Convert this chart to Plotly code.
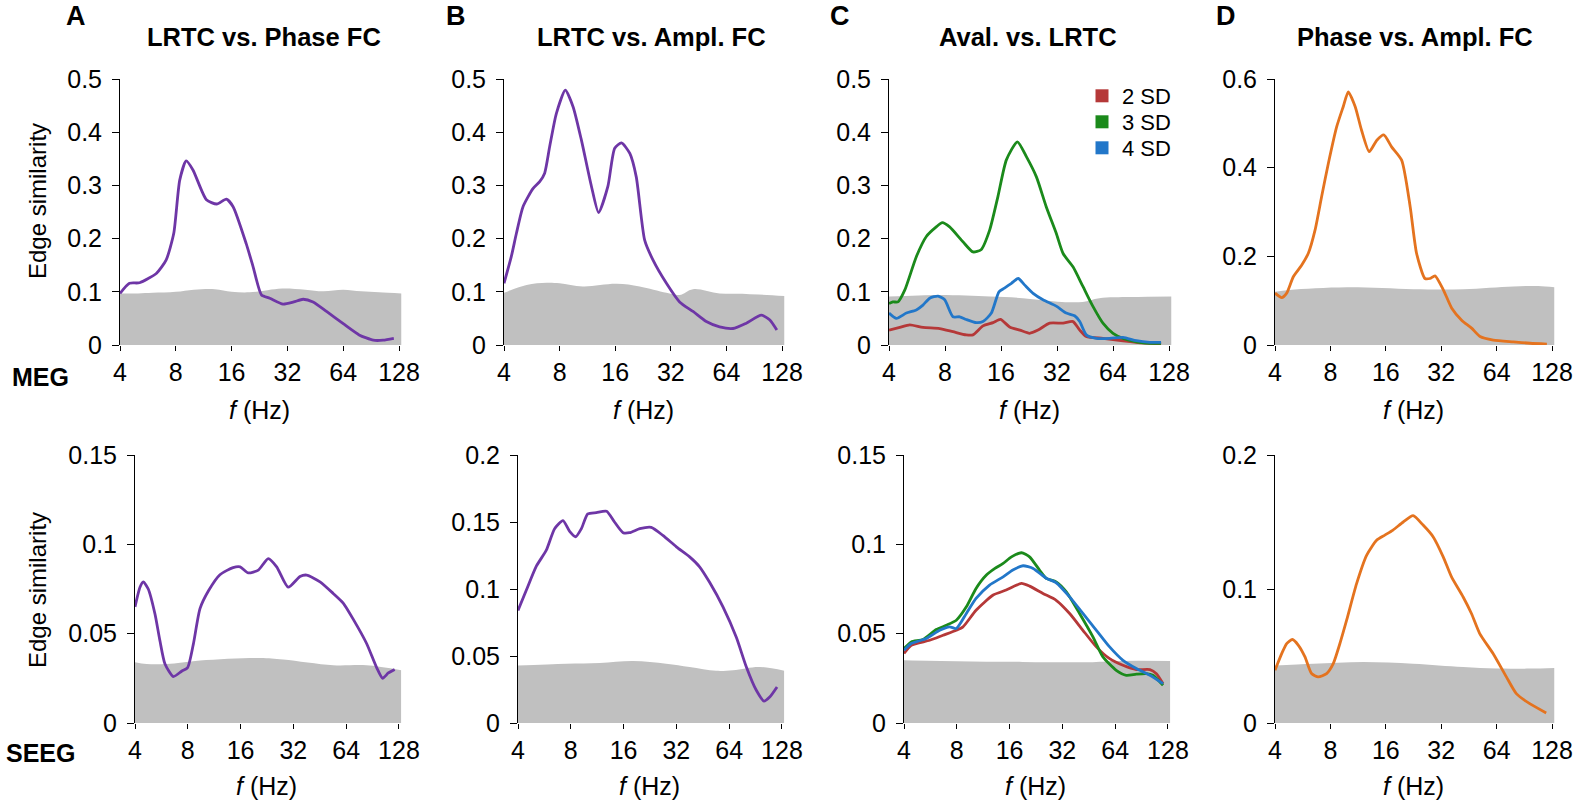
import math
import plotly.graph_objects as go

# ---------------- data ----------------
X_TICKS = [4, 8, 16, 32, 64, 128]
X_TICKTEXT = ["4", "8", "16", "32", "64", "128"]

# MEG (top row)
A_MEG_F = [4, 4.5, 5.1, 6.3, 7.1, 7.8, 8.4, 9.1, 9.9, 11.7, 13.3, 15, 16.3, 19.2, 20.9, 23.2, 25.7, 30.3, 34.6, 38.9, 44, 52, 64, 78, 93, 105, 120]
A_MEG_V = [0.097, 0.116, 0.117, 0.135, 0.16, 0.21, 0.31, 0.346, 0.329, 0.273, 0.265, 0.274, 0.26, 0.19, 0.147, 0.094, 0.088, 0.077, 0.081, 0.086, 0.081, 0.063, 0.040, 0.019, 0.009, 0.009, 0.0125]
A_MEG_NULL_F = [4, 5, 6, 8, 10, 13, 16, 20, 25, 30, 40, 50, 64, 80, 100, 132]
A_MEG_NULL_V = [0.097, 0.097, 0.098, 0.100, 0.104, 0.105, 0.100, 0.099, 0.103, 0.106, 0.104, 0.101, 0.104, 0.101, 0.099, 0.097]

B_MEG_F = [4, 4.38, 4.67, 5.07, 5.74, 6.24, 6.64, 7.07, 7.68, 8.59, 9.46, 10.5, 11.9, 13.0, 14.6, 15.9, 17.3, 19.2, 20.8, 23.1, 25.6, 30.3, 35.7, 42.2, 49.8, 58.8, 69.5, 82, 99, 110, 120]
B_MEG_V = [0.116, 0.166, 0.21, 0.26, 0.294, 0.307, 0.323, 0.373, 0.435, 0.479, 0.448, 0.385, 0.298, 0.249, 0.298, 0.37, 0.380, 0.36, 0.316, 0.197, 0.16, 0.116, 0.081, 0.063, 0.044, 0.034, 0.031, 0.041, 0.056, 0.047, 0.028]
B_MEG_NULL_F = [4, 5.3, 6.8, 8, 10.7, 16.3, 21.7, 30.3, 35.7, 42.2, 58.8, 82, 132]
B_MEG_NULL_V = [0.098, 0.113, 0.117, 0.116, 0.110, 0.115, 0.110, 0.098, 0.094, 0.105, 0.097, 0.096, 0.092]

C_MEG_3SD_F = [4, 4.2, 4.47, 4.86, 5.61, 6.35, 7.18, 7.74, 8.47, 9.99, 11.3, 12.5, 13.9, 15.4, 17.1, 19.6, 21.9, 24.8, 28.0, 31.7, 34.5, 39.0, 44.1, 50.0, 56.5, 64, 72.4, 85.4, 101, 116]
C_MEG_3SD_V = [0.078, 0.081, 0.081, 0.103, 0.166, 0.204, 0.222, 0.230, 0.222, 0.194, 0.175, 0.179, 0.216, 0.279, 0.348, 0.382, 0.354, 0.316, 0.26, 0.21, 0.172, 0.147, 0.110, 0.072, 0.041, 0.022, 0.0125, 0.006, 0.003, 0.003]
C_MEG_4SD_F = [4, 4.38, 4.96, 5.61, 6.09, 6.62, 7.34, 7.97, 8.83, 9.59, 10.4, 11.8, 12.8, 14.2, 15.6, 16.7, 18.2, 19.8, 21.4, 23.8, 26.9, 31.7, 35.9, 39.8, 42.4, 46.0, 52.1, 61.4, 72.4, 85.4, 101, 116]
C_MEG_4SD_V = [0.060, 0.050, 0.060, 0.066, 0.075, 0.088, 0.092, 0.085, 0.053, 0.053, 0.048, 0.042, 0.044, 0.06, 0.100, 0.107, 0.116, 0.125, 0.113, 0.097, 0.085, 0.073, 0.060, 0.055, 0.044, 0.019, 0.0125, 0.0125, 0.0144, 0.008, 0.005, 0.005]
C_MEG_2SD_F = [4, 4.57, 5.17, 6.09, 7.49, 8.83, 10.4, 11.3, 12.8, 14.5, 15.9, 17.8, 20.2, 22.8, 25.3, 29.2, 34.5, 39.0, 42.4, 46, 56.5, 72.4, 92.8, 116]
C_MEG_2SD_V = [0.028, 0.033, 0.038, 0.033, 0.031, 0.025, 0.019, 0.019, 0.036, 0.042, 0.048, 0.034, 0.028, 0.022, 0.028, 0.041, 0.041, 0.044, 0.028, 0.016, 0.0125, 0.008, 0.004, 0.002]
C_MEG_NULL_F = [4, 7.5, 14, 21, 34, 44, 54, 80, 132]
C_MEG_NULL_V = [0.091, 0.094, 0.091, 0.088, 0.081, 0.081, 0.088, 0.090, 0.091]

D_MEG_F = [4, 4.35, 4.63, 5.03, 5.58, 6.07, 6.6, 7.17, 7.8, 8.65, 9.4, 10.0, 10.9, 11.8, 13.0, 14.3, 15.6, 17.2, 19.5, 21.7, 23.5, 26.1, 27.8, 29.6, 32.9, 36.5, 41.3, 46.8, 52, 61.4, 78.9, 97.2, 120]
D_MEG_V = [0.117, 0.107, 0.117, 0.154, 0.180, 0.207, 0.259, 0.335, 0.410, 0.492, 0.538, 0.571, 0.538, 0.485, 0.436, 0.462, 0.474, 0.447, 0.417, 0.312, 0.207, 0.150, 0.150, 0.156, 0.124, 0.083, 0.056, 0.038, 0.019, 0.011, 0.007, 0.004, 0.002]
D_MEG_NULL_F = [4, 4.8, 9.8, 22.6, 42.2, 78.9, 107.9, 132]
D_MEG_NULL_V = [0.12, 0.124, 0.130, 0.126, 0.126, 0.132, 0.133, 0.130]

# SEEG (bottom row)
A_SEEG_F = [4, 4.27, 4.46, 4.76, 5.2, 5.55, 5.93, 6.62, 7.38, 7.98, 8.6, 9.39, 10.5, 12.2, 14.5, 15.9, 17.7, 20.2, 23.0, 25.7, 29.9, 34.9, 38.1, 45.4, 54.0, 61.7, 70.3, 83.7, 95.5, 103.3, 111.3, 121]
A_SEEG_V = [0.065, 0.076, 0.079, 0.075, 0.061, 0.046, 0.033, 0.026, 0.029, 0.031, 0.044, 0.064, 0.074, 0.083, 0.087, 0.0874, 0.084, 0.0856, 0.092, 0.0874, 0.076, 0.082, 0.0828, 0.079, 0.0725, 0.067, 0.058, 0.0445, 0.031, 0.025, 0.028, 0.030]
A_SEEG_NULL_F = [4, 4.66, 6.06, 9.39, 20.6, 28.0, 54, 83.7, 132]
A_SEEG_NULL_V = [0.034, 0.033, 0.033, 0.035, 0.0364, 0.0355, 0.0323, 0.0323, 0.0295]

B_SEEG_F = [4, 4.46, 5.09, 5.8, 6.47, 7.22, 7.88, 8.53, 9.19, 10.0, 11.2, 12.8, 14.2, 15.9, 17.3, 19.8, 23.0, 26.8, 32.0, 38.1, 43.4, 49.5, 59.0, 70.3, 80.1, 91.4, 101, 109, 120]
B_SEEG_V = [0.084, 0.099, 0.117, 0.129, 0.145, 0.151, 0.143, 0.139, 0.145, 0.156, 0.157, 0.158, 0.150, 0.142, 0.142, 0.145, 0.146, 0.140, 0.1315, 0.124, 0.1166, 0.105, 0.0867, 0.064, 0.042, 0.0244, 0.0164, 0.0194, 0.0269]
B_SEEG_NULL_F = [4, 7.54, 11.7, 18.1, 28, 38.1, 54, 67.3, 95.5, 132]
B_SEEG_NULL_V = [0.043, 0.0443, 0.0448, 0.0463, 0.0443, 0.0418, 0.0389, 0.0394, 0.0418, 0.0389]

C_SEEG_3SD_F = [4, 4.4, 5.13, 6.11, 6.97, 7.95, 9.07, 10.3, 11.8, 13.2, 14.7, 16.4, 18.7, 20.8, 23.7, 25.9, 29.5, 33.7, 40.1, 47.8, 54.5, 64.9, 74.1, 84.5, 96.3, 105, 120]
C_SEEG_3SD_V = [0.0417, 0.0454, 0.0467, 0.0523, 0.0547, 0.0575, 0.065, 0.0753, 0.0828, 0.0865, 0.0893, 0.093, 0.0953, 0.093, 0.0856, 0.081, 0.079, 0.0734, 0.0613, 0.0482, 0.037, 0.0295, 0.0267, 0.0273, 0.0276, 0.0267, 0.0211]
C_SEEG_4SD_F = [4, 4.4, 5.36, 6.39, 7.28, 7.95, 9.07, 10.3, 12.3, 14.7, 16.7, 19.1, 21.8, 25.9, 29.5, 35.2, 41.9, 50.0, 59.5, 70.9, 84.5, 101, 120]
C_SEEG_4SD_V = [0.0407, 0.0445, 0.0473, 0.0519, 0.0538, 0.0529, 0.0613, 0.0697, 0.0772, 0.0818, 0.0856, 0.088, 0.0865, 0.081, 0.0785, 0.0706, 0.0613, 0.0519, 0.0426, 0.0351, 0.0305, 0.0267, 0.022]
C_SEEG_2SD_F = [4, 4.4, 5.6, 6.68, 7.95, 8.68, 10.3, 12.9, 15.3, 18.7, 20.8, 24.8, 29.5, 35.2, 41.9, 50.0, 59.5, 70.9, 84.5, 101, 110, 120]
C_SEEG_2SD_V = [0.0389, 0.0435, 0.0463, 0.0491, 0.0519, 0.0538, 0.0631, 0.0716, 0.0744, 0.0781, 0.0766, 0.0725, 0.0687, 0.0613, 0.0519, 0.0426, 0.036, 0.0323, 0.0299, 0.0299, 0.0276, 0.022]
C_SEEG_NULL_F = [4, 8, 19, 45, 66, 132]
C_SEEG_NULL_V = [0.0351, 0.0346, 0.0342, 0.034, 0.0347, 0.0347]

D_SEEG_F = [4, 4.35, 4.63, 4.97, 5.36, 5.82, 6.32, 6.87, 7.63, 8.29, 9.01, 9.8, 11.1, 12.6, 14.3, 15.8, 17.5, 19.9, 22.5, 25.5, 28.9, 32.8, 36.4, 42.1, 46.7, 51.8, 61.2, 72.3, 81.9, 96.8, 119]
D_SEEG_V = [0.0394, 0.0518, 0.0593, 0.0623, 0.058, 0.0493, 0.0369, 0.0344, 0.0369, 0.0443, 0.0593, 0.0767, 0.104, 0.1253, 0.1365, 0.1402, 0.144, 0.150, 0.1547, 0.1477, 0.139, 0.124, 0.109, 0.094, 0.0817, 0.0667, 0.0518, 0.0344, 0.0219, 0.0144, 0.0075]
D_SEEG_NULL_F = [4, 6.46, 12.1, 22.5, 42.1, 63.8, 96.8, 132]
D_SEEG_NULL_V = [0.043, 0.0443, 0.0456, 0.0443, 0.0418, 0.0406, 0.0406, 0.0411]

Y_TICKS_05 = [0, 0.1, 0.2, 0.3, 0.4, 0.5]
Y_TICKTEXT_05 = ["0", "0.1", "0.2", "0.3", "0.4", "0.5"]
Y_TICKS_06 = [0, 0.2, 0.4, 0.6]
Y_TICKTEXT_06 = ["0", "0.2", "0.4", "0.6"]
Y_TICKS_015 = [0, 0.05, 0.1, 0.15]
Y_TICKTEXT_015 = ["0", "0.05", "0.1", "0.15"]
Y_TICKS_02B = [0, 0.05, 0.1, 0.15, 0.2]
Y_TICKTEXT_02B = ["0", "0.05", "0.1", "0.15", "0.2"]
Y_TICKS_02D = [0, 0.1, 0.2]
Y_TICKTEXT_02D = ["0", "0.1", "0.2"]

PANEL_TITLES = ["LRTC vs. Phase FC", "LRTC vs. Ampl. FC", "Aval. vs. LRTC", "Phase vs. Ampl. FC"]
PANEL_LETTERS = ["A", "B", "C", "D"]
ROW_LABELS = ["MEG", "SEEG"]
LEGEND_NAMES = ["2 SD", "3 SD", "4 SD"]

# ---------------- styling ----------------
W, H = 1574, 805


def px(xp):
    return xp / W


def py(yp):
    return 1 - yp / H


FONT = "Liberation Sans, Arial, Helvetica, sans-serif"
PURPLE = "#6e36a6"
ORANGE = "#e4731f"
RED = "#b53838"
GREEN = "#1b8a1b"
BLUE = "#2277c9"
GRAY = "#c0c0c0"
LW = 2.8
TICK_FS = 25

X_END = 132  # axis range end (Hz)

# pixel layout: left px of y-axis, right px of range, top px, bottom px
panels = [
    dict(l=120, r=401.5, t=79, b=345, ymax=0.5, yt=Y_TICKS_05, ytt=Y_TICKTEXT_05),
    dict(l=504, r=784.5, t=79, b=345, ymax=0.5, yt=Y_TICKS_05, ytt=Y_TICKTEXT_05),
    dict(l=889, r=1171.5, t=79, b=345, ymax=0.5, yt=Y_TICKS_05, ytt=Y_TICKTEXT_05),
    dict(l=1275, r=1554.5, t=79, b=345, ymax=0.6, yt=Y_TICKS_06, ytt=Y_TICKTEXT_06),
    dict(l=135, r=401.3, t=455, b=723, ymax=0.15, yt=Y_TICKS_015, ytt=Y_TICKTEXT_015),
    dict(l=518, r=784.3, t=455, b=723, ymax=0.2, yt=Y_TICKS_02B, ytt=Y_TICKTEXT_02B),
    dict(l=904, r=1170.3, t=455, b=723, ymax=0.15, yt=Y_TICKS_015, ytt=Y_TICKTEXT_015),
    dict(l=1275, r=1554.5, t=455, b=723, ymax=0.2, yt=Y_TICKS_02D, ytt=Y_TICKTEXT_02D),
]

series = [
    (0, A_MEG_NULL_F, A_MEG_NULL_V, [(A_MEG_F, A_MEG_V, PURPLE)]),
    (1, B_MEG_NULL_F, B_MEG_NULL_V, [(B_MEG_F, B_MEG_V, PURPLE)]),
    (2, C_MEG_NULL_F, C_MEG_NULL_V, [(C_MEG_2SD_F, C_MEG_2SD_V, RED), (C_MEG_3SD_F, C_MEG_3SD_V, GREEN), (C_MEG_4SD_F, C_MEG_4SD_V, BLUE)]),
    (3, D_MEG_NULL_F, D_MEG_NULL_V, [(D_MEG_F, D_MEG_V, ORANGE)]),
    (4, A_SEEG_NULL_F, A_SEEG_NULL_V, [(A_SEEG_F, A_SEEG_V, PURPLE)]),
    (5, B_SEEG_NULL_F, B_SEEG_NULL_V, [(B_SEEG_F, B_SEEG_V, PURPLE)]),
    (6, C_SEEG_NULL_F, C_SEEG_NULL_V, [(C_SEEG_2SD_F, C_SEEG_2SD_V, RED), (C_SEEG_3SD_F, C_SEEG_3SD_V, GREEN), (C_SEEG_4SD_F, C_SEEG_4SD_V, BLUE)]),
    (7, D_SEEG_NULL_F, D_SEEG_NULL_V, [(D_SEEG_F, D_SEEG_V, ORANGE)]),
]

fig = go.Figure()
layout = dict(
    width=W, height=H, autosize=False,
    margin=dict(l=0, r=0, t=0, b=0, pad=0, autoexpand=False),
    paper_bgcolor="white", plot_bgcolor="white",
    font=dict(family=FONT, color="black", size=22),
    showlegend=True,
)

for i, p in enumerate(panels):
    n = i + 1
    xa = "xaxis" if n == 1 else f"xaxis{n}"
    ya = "yaxis" if n == 1 else f"yaxis{n}"
    layout[xa] = dict(
        type="log", range=[math.log10(4), math.log10(X_END)],
        domain=[px(p["l"]), px(p["r"])], anchor=f"y{'' if n == 1 else n}",
        tickvals=X_TICKS, ticktext=X_TICKTEXT, ticks="outside", ticklen=5,
        tickcolor="black", tickwidth=1, showline=False, showgrid=False, zeroline=False,
        tickfont=dict(size=TICK_FS, family=FONT, color="black"), ticklabelstandoff=0,
        automargin=False,
    )
    layout[ya] = dict(
        range=[0, p["ymax"]], domain=[py(p["b"]), py(p["t"])],
        anchor=f"x{'' if n == 1 else n}",
        tickvals=p["yt"], ticktext=p["ytt"], ticks="outside", ticklen=7,
        tickcolor="black", tickwidth=1, showline=True, linecolor="black", linewidth=1,
        showgrid=False, zeroline=False,
        tickfont=dict(size=TICK_FS, family=FONT, color="black"), ticklabelstandoff=5,
        automargin=False,
    )

for idx, nf, nv, lines in series:
    n = idx + 1
    xr = "x" if n == 1 else f"x{n}"
    yr = "y" if n == 1 else f"y{n}"
    fig.add_trace(go.Scatter(
        x=nf, y=nv, xaxis=xr, yaxis=yr, mode="lines",
        line=dict(width=0, color=GRAY, shape="spline", smoothing=1.0),
        fill="tozeroy", fillcolor=GRAY, showlegend=False, hoverinfo="skip",
    ))
    for f, v, c in lines:
        fig.add_trace(go.Scatter(
            x=f, y=v, xaxis=xr, yaxis=yr, mode="lines",
            line=dict(width=LW, color=c, shape="spline", smoothing=0.6),
            showlegend=False, cliponaxis=False,
        ))

# legend: one single-entry legend per key so the row spacing matches the reference
legend_ids = ["legend", "legend2", "legend3"]
legend_cy = [96, 122, 148]
for name, c, lid, cy in zip(LEGEND_NAMES, [RED, GREEN, BLUE], legend_ids, legend_cy):
    fig.add_trace(go.Scatter(
        x=[None], y=[None], xaxis="x3", yaxis="y3", mode="markers", name=name,
        marker=dict(symbol="square", size=13, color=c), showlegend=True, legend=lid,
    ))
    layout[lid] = dict(
        x=px(1082), y=py(cy), xanchor="left", yanchor="middle",
        bgcolor="rgba(0,0,0,0)", borderwidth=0,
        font=dict(size=22, family=FONT, color="black"), itemwidth=30,
    )

ann = []
for i, p in enumerate(panels):
    x4 = p["l"]
    x128 = p["l"] + (p["r"] - p["l"]) * (math.log10(128) - math.log10(4)) / (math.log10(X_END) - math.log10(4))
    cx = (x4 + x128) / 2
    ty = 410 if i < 4 else 786
    ann.append(dict(text="<i>f</i> (Hz)", x=px(cx), y=py(ty), xref="paper", yref="paper",
                    showarrow=False, xanchor="center", yanchor="middle",
                    font=dict(size=25, family=FONT, color="black")))

title_cx = [264, 651, 1028, 1415]
letter_cx = [76, 456, 840, 1226]
for j in range(4):
    ann.append(dict(text=f"<b>{PANEL_TITLES[j]}</b>", x=px(title_cx[j]), y=py(37),
                    xref="paper", yref="paper", showarrow=False, xanchor="center", yanchor="middle",
                    font=dict(size=25.5, family=FONT, color="black")))
    ann.append(dict(text=f"<b>{PANEL_LETTERS[j]}</b>", x=px(letter_cx[j]), y=py(16),
                    xref="paper", yref="paper", showarrow=False, xanchor="center", yanchor="middle",
                    font=dict(size=27, family=FONT, color="black")))

for lab, cy in zip(ROW_LABELS, [377, 753]):
    ann.append(dict(text=f"<b>{lab}</b>", x=px(40), y=py(cy), xref="paper", yref="paper",
                    showarrow=False, xanchor="center", yanchor="middle",
                    font=dict(size=25, family=FONT, color="black")))

for cy in [201, 590]:
    ann.append(dict(text="Edge similarity", x=px(37), y=py(cy), xref="paper", yref="paper",
                    showarrow=False, xanchor="center", yanchor="middle", textangle=-90,
                    font=dict(size=24, family=FONT, color="black")))

layout["annotations"] = ann
fig.update_layout(**layout)
# remove the default 8px page margin so the 1574x805 figure fills the window exactly
fig.write_html("out.html", config={"displayModeBar": False},
               post_script="document.body.style.margin='0';")
